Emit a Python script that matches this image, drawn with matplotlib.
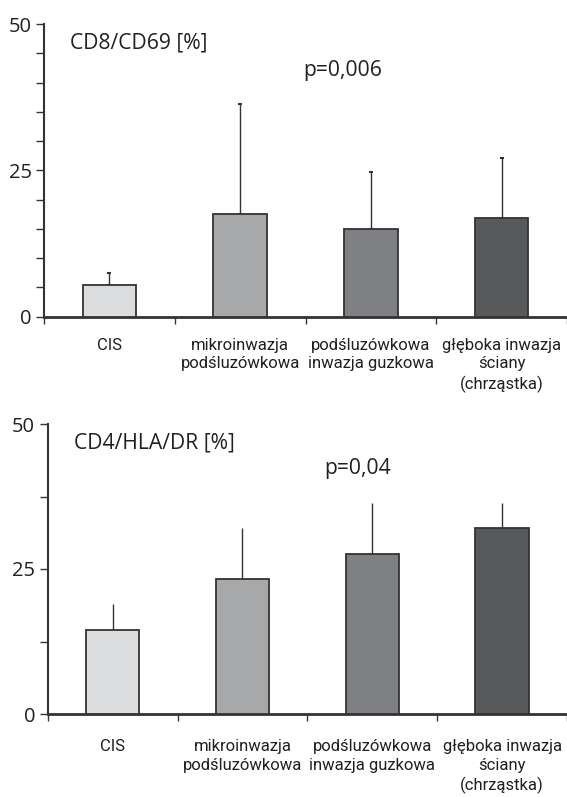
import matplotlib
matplotlib.use("Agg")
import matplotlib.pyplot as plt
import numpy as np

plt.rcParams['font.family'] = ['Open Sans', 'DejaVu Sans']

categories = ["CIS", "mikroinwazja\npodśluzówkowa", "podśluzówkowa\ninwazja guzkowa",
              "głęboka inwazja\nściany\n(chrząstka)"]
colors = ["#dcddde", "#a7a8aa", "#7f8083", "#58595b"]

cd8_mean = [5.4, 17.5, 14.9, 16.8]
cd8_sd = [2.1, 18.8, 9.8, 10.3]
cd4_mean = [14.5, 23.2, 27.6, 32.0]
cd4_sd = [4.4, 8.8, 8.7, 4.3]

txt = "#231f20"
W, H = 567, 797
fig = plt.figure(figsize=(W/100, H/100), dpi=100)

def make(ax, means, sds, title, ptext, px, py, minor_step, caps, lpad):
    x = np.arange(len(means))
    ax.bar(x, means, width=0.41, color=colors, edgecolor="#333333", linewidth=1.3, zorder=3)
    ax.errorbar(x, means, yerr=[np.zeros(len(sds)), sds], fmt='none', ecolor="#333333",
                elinewidth=1.0, capsize=caps, capthick=1.5, zorder=2)
    ax.set_xlim(-0.5, 3.5)
    ax.set_ylim(0, 50)
    ax.set_xticks(np.arange(-0.5, 3.6, 1.0))
    ax.set_xticklabels([])
    ax.set_xticks(x, minor=True)
    ax.set_xticklabels(categories, minor=True, fontsize=12, color=txt, linespacing=1.32,
                       va='top', family=['Roboto', 'DejaVu Sans'])
    ax.tick_params(axis='x', which='minor', length=0, pad=lpad)
    ax.tick_params(axis='x', which='major', length=5, width=1.0, color="#333333")
    ax.set_yticks([0, 25, 50])
    ax.set_yticklabels(["0", "25", "50"], fontsize=14.5, color=txt)
    ax.set_yticks(np.arange(0, 50.1, minor_step), minor=True)
    ax.tick_params(axis='y', which='both', length=6, width=1.0, color="#333333", pad=3)
    for s in ['top', 'right']:
        ax.spines[s].set_visible(False)
    ax.spines['left'].set_linewidth(1.5)
    ax.spines['bottom'].set_linewidth(2.0)
    ax.spines['left'].set_color("#333333")
    ax.spines['bottom'].set_color("#333333")
    ax.text(0.05, 0.935, title, transform=ax.transAxes, fontsize=15.2, color=txt, va='center')
    ax.text(px, py, ptext, transform=ax.transAxes, fontsize=15.2, color=txt, va='center')

ax1 = fig.add_axes([44/W, (H-316.7)/H, (W-44)/W, (316.7-24)/H])
make(ax1, cd8_mean, cd8_sd, "CD8/CD69 [%]", "p=0,006", 0.496, 0.84, 5, 1.5, 15)

ax2 = fig.add_axes([47.7/W, (H-714)/H, (W-47.7)/W, 290/H])
make(ax2, cd4_mean, cd4_sd, "CD4/HLA/DR [%]", "p=0,04", 0.532, 0.845, 12.5, 0, 18)

fig.savefig("out.png", dpi=100)
